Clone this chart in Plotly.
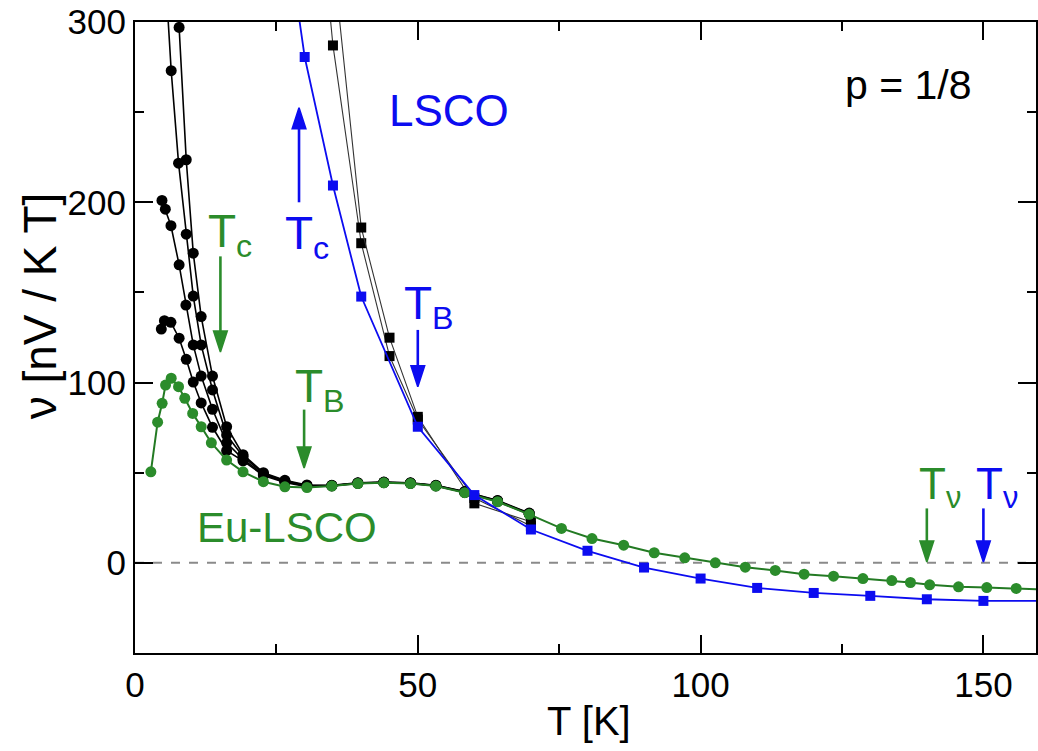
import plotly.graph_objects as go

# ---------------- data ----------------
# Eu-LSCO, green circles
T_eu = [2.8, 4.0, 4.8, 5.4, 6.4, 7.7, 8.8, 10.2, 11.7, 13.5, 16.2, 19.1, 22.7, 26.5,
        30.4, 34.8, 39.4, 44.0, 48.7, 53.2, 58.3, 64.1, 69.7, 75.4, 80.8, 86.4, 91.8,
        97.2, 102.6, 107.9, 113.2, 118.3, 123.5, 128.7, 133.8, 137.1, 140.5, 145.6,
        150.6, 155.8, 160.5]
v_eu = [50.5, 78, 88.5, 98.6, 102.4, 97.7, 91.3, 82.9, 75.5, 66.6, 57, 50.5, 45, 42.2,
        41.8, 42.6, 44, 44.4, 44, 42.6, 38.9, 33.9, 26.9, 19.1, 13.5, 9.8, 5.6,
        2.8, 0, -2.4, -4.2, -6.3, -7.4, -8.7, -9.8, -10.9, -12.2, -13.3,
        -13.7, -14.2, -14.8]

# LSCO, blue squares
T_lsco = [25, 30, 35, 40, 50, 60, 70, 80, 90, 100, 110, 120, 130, 140, 150, 160]
v_lsco = [390, 280.6, 209.3, 147.7, 75.5, 37.6, 18.5, 6.7, -2.6, -8.7, -13.9, -16.7,
          -18.3, -20.2, -21.1, -21.1]

# LSCO, black squares (two further curves)
T_sq_a = [30, 35, 40, 45, 50, 60, 70]
v_sq_a = [450, 287, 177.3, 114.7, 79.5, 36, 20.5]
T_sq_b = [35, 40, 45, 50, 60, 70]
v_sq_b = [336, 186, 124.9, 81, 33, 22.8]

# Eu-LSCO, black circles (four further curves)
T_ci_a = [6.4, 7.8, 9.06, 10.3, 11.7, 13.7, 16.2, 19.1, 22.7, 26.5, 30.4, 34.8, 39.4,
          44.0, 48.7, 53.2, 58.3, 64.1, 69.7]
v_ci_a = [420, 297, 223.6, 171.8, 136.6, 103.6, 75.5, 60, 50, 45.8, 43.2, 43.0, 44.4,
          44.8, 44.4, 43.0, 39.6, 34.6, 27.6]
T_ci_b = [5.3, 6.4, 7.7, 9.06, 10.3, 11.7, 13.7, 16.2, 19.1, 22.7, 26.5, 30.4, 34.8,
          39.4, 44.0, 48.7, 53.2, 58.3, 64.1, 69.7]
v_ci_b = [330, 273, 221.7, 182.3, 148, 120.9, 95.9, 70.9, 59, 49.5, 45.4, 42.9, 42.9,
          44.3, 44.7, 44.3, 42.9, 39.4, 34.4, 27.4]
T_ci_c = [4.77, 5.36, 6.36, 7.8, 9.0, 10.3, 11.7, 13.7, 16.2, 19.1, 22.7, 26.5, 30.4,
          34.8, 39.4, 44.0, 48.7, 53.2, 58.3, 64.1, 69.7]
v_ci_c = [201, 196.2, 187, 165.3, 143, 120.9, 103.6, 85.2, 66.6, 57.5, 49, 45, 42.6,
          42.8, 44.2, 44.6, 44.2, 42.8, 39.2, 34.2, 27.2]
T_ci_d = [4.65, 5.2, 6.35, 7.8, 9.06, 10.3, 11.7, 13.7, 16.2, 19.1, 22.7, 26.5, 30.4,
          34.8, 39.4, 44.0, 48.7, 53.2, 58.3, 64.1, 69.7]
v_ci_d = [129.7, 134.3, 133.4, 124.6, 112.9, 100.3, 88.7, 75.2, 62.2, 56.6, 48.5, 44.6,
          42.3, 42.7, 44.1, 44.5, 44.1, 42.7, 39.0, 34.0, 27.0]

# characteristic temperatures (arrow positions): [T, tail v, head v]
Tc_eu = [15.1, 170, 117]
TB_eu = [29.9, 85, 52.6]
Tc_lsco = [29.0, 200, 252.4]
TB_lsco = [50.0, 129.2, 97.7]
Tnu_eu = [140.0, 30.2, 0.5]
Tnu_lsco = [150.0, 30.2, 0.5]

# ---------------- styling ----------------
FONT = "Liberation Sans, Arial, Helvetica, sans-serif"
GREEN = "#2b8c2b"
GREEN_LINE = "#237a23"
BLUE = "#0c0cf0"
BLACK = "#000000"

fig = go.Figure()

for T, v in [(T_sq_a, v_sq_a), (T_sq_b, v_sq_b)]:
    fig.add_trace(go.Scatter(x=T, y=v, mode="lines+markers",
                             line=dict(color="#333333", width=1.1),
                             marker=dict(symbol="square", size=10, color=BLACK)))

for T, v in [(T_ci_a, v_ci_a), (T_ci_b, v_ci_b), (T_ci_c, v_ci_c), (T_ci_d, v_ci_d)]:
    fig.add_trace(go.Scatter(x=T, y=v, mode="lines+markers",
                             line=dict(color=BLACK, width=1.6),
                             marker=dict(symbol="circle", size=11, color=BLACK)))

fig.add_trace(go.Scatter(x=T_eu, y=v_eu, mode="lines+markers",
                         line=dict(color=GREEN_LINE, width=2),
                         marker=dict(symbol="circle", size=11, color=GREEN)))
fig.add_trace(go.Scatter(x=T_lsco, y=v_lsco, mode="lines+markers",
                         line=dict(color=BLUE, width=1.8),
                         marker=dict(symbol="square", size=10, color=BLUE)))

# zero line
fig.add_shape(type="line", xref="paper", x0=0, x1=1, yref="y", y0=0, y1=0,
              line=dict(color="#8a8a8a", width=2, dash="dash"), layer="below")


def arrow(spec, color):
    T, tail, head = spec
    fig.add_trace(go.Scatter(
        x=[T, T], y=[tail, head], mode="lines+markers", cliponaxis=False,
        line=dict(color=color, width=2.6),
        marker=dict(symbol="arrow", size=[0, 22], angleref="previous", color=color,
                    opacity=1, line=dict(width=1.6, color=color))))


arrow(Tc_eu, GREEN)
arrow(TB_eu, GREEN)
arrow(Tc_lsco, BLUE)
arrow(TB_lsco, BLUE)
arrow(Tnu_eu, GREEN)
arrow(Tnu_lsco, BLUE)

ann = []


def label(text, T, v, color, size, xanchor="left"):
    ann.append(dict(x=T, y=v, xref="x", yref="y", text=text, showarrow=False,
                    xanchor=xanchor, yanchor="middle",
                    font=dict(family=FONT, size=size, color=color)))


label("T<sub>c</sub>", 12.5, 182, GREEN, 46)
label("T<sub>B</sub>", 28.0, 96, GREEN, 46)
label("T<sub>c</sub>", 26.2, 181, BLUE, 46)
label("T<sub>B</sub>", 47.2, 142, BLUE, 46)
label("T<sub>ν</sub>", 138.3, 42, GREEN, 44)
label("T<sub>ν</sub>", 148.3, 42, BLUE, 44)
label("LSCO", 55.6, 251, BLUE, 44, "center")
label("Eu-LSCO", 26.8, 19.5, GREEN, 42, "center")
label("p = 1/8", 136.7, 265, BLACK, 41, "center")

# axis titles
ann.append(dict(x=-0.105, y=0.55, xref="paper", yref="paper", text="ν [nV / K T]",
                textangle=-90, showarrow=False, xanchor="center", yanchor="middle",
                font=dict(family=FONT, size=46, color=BLACK)))
ann.append(dict(x=0.504, y=-0.108, xref="paper", yref="paper", text="T [K]",
                showarrow=False, xanchor="center", yanchor="middle",
                font=dict(family=FONT, size=40, color=BLACK)))

axis_common = dict(showline=True, linecolor=BLACK, linewidth=2, mirror="ticks",
                   ticks="inside", ticklen=18, tickwidth=1.8, tickcolor=BLACK,
                   showgrid=False, zeroline=False,
                   tickfont=dict(family=FONT, size=35, color=BLACK))

fig.update_layout(
    width=1038, height=751,
    margin=dict(l=135, r=0, t=22, b=98),
    plot_bgcolor="white", paper_bgcolor="white",
    showlegend=False,
    font=dict(family=FONT, color=BLACK),
    annotations=ann,
    xaxis=dict(range=[0, 159.3], tick0=0, dtick=50,
               minor=dict(dtick=25, ticks="inside", ticklen=9, tickwidth=1.8,
                          tickcolor=BLACK, showgrid=False),
               **axis_common),
    yaxis=dict(range=[-50, 300], tick0=0, dtick=100,
               minor=dict(dtick=50, ticks="inside", ticklen=9, tickwidth=1.8,
                          tickcolor=BLACK, showgrid=False),
               **axis_common),
)

fig.write_html("out.html", config={"displayModeBar": False},
               post_script="document.body.style.margin='0px';")
